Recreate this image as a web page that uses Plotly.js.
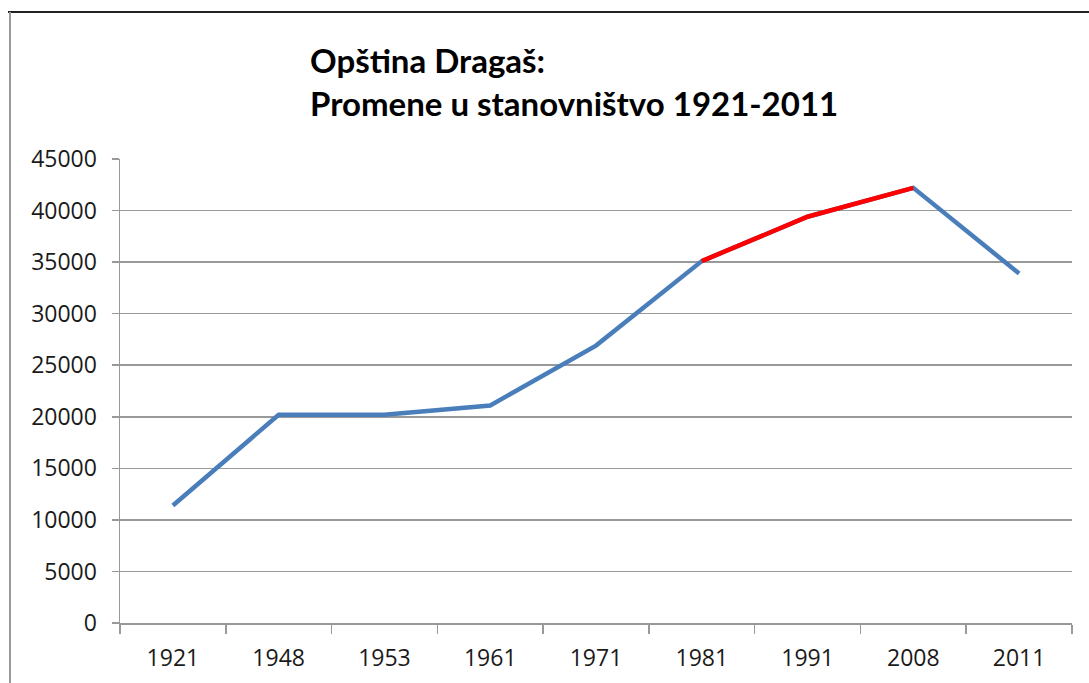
<!DOCTYPE html>
<html>
<head>
<meta charset="utf-8">
<script src="https://cdn.plot.ly/plotly-3.0.1.min.js"></script>
<style>
  html, body { margin: 0; padding: 0; background: #fff; }
  #wrap { position: relative; width: 1089px; height: 683px; overflow: hidden; }
  #chart { position: absolute; left: 0; top: 0; width: 1089px; height: 683px; }
  #bTop { position: absolute; left: 8px; top: 11px; width: 1081px; height: 2px; background: #222; }
  #bLeft { position: absolute; left: 9px; top: 12px; width: 2px; height: 671px; background: #9a9a9a; }
</style>
</head>
<body>
<div id="wrap">
  <div id="chart"></div>
  <div id="bTop"></div>
  <div id="bLeft"></div>
</div>
<script>
// Data
const years = ["1921", "1948", "1953", "1961", "1971", "1981", "1991", "2008", "2011"];
const population = [11400, 20200, 20200, 21100, 26900, 35100, 39400, 42200, 33900];
const highlightedYears = ["1981", "1991", "2008"];
const yTickValues = [0, 5000, 10000, 15000, 20000, 25000, 30000, 35000, 40000, 45000];
const titleLines = ["Opština Dragaš:", "Promene u stanovništvo 1921-2011"];

const highlightedValues = highlightedYears.map(y => population[years.indexOf(y)]);

const traces = [
  {
    x: years, y: population, type: "scatter", mode: "lines",
    line: { color: "#4A7EBB", width: 4.5 },
    hoverinfo: "skip", showlegend: false
  },
  {
    x: highlightedYears, y: highlightedValues, type: "scatter", mode: "lines",
    line: { color: "#FF0000", width: 4.5 },
    hoverinfo: "skip", showlegend: false
  }
];

const tickFont = { family: "Open Sans, Noto Sans, sans-serif", size: 23, color: "#1a1a1a" };

const layout = {
  width: 1089, height: 683,
  margin: { l: 120, r: 17, t: 159, b: 60 },
  paper_bgcolor: "#fff", plot_bgcolor: "#fff",
  showlegend: false,
  title: {
    text: titleLines.join("<br>"),
    font: { family: "Lato, Open Sans, sans-serif", size: 33, color: "#000", weight: "bold" },
    xref: "container", yref: "container",
    x: 310 / 1089, xanchor: "left",
    y: 1 - 73 / 683, yanchor: "top",
    align: "left"
  },
  xaxis: {
    type: "category",
    categoryorder: "array", categoryarray: years,
    range: [-0.5, years.length - 0.5],
    showgrid: false, zeroline: false,
    showline: true, linecolor: "#999", linewidth: 1.5,
    ticks: "outside", tickson: "boundaries", ticklen: 9, tickcolor: "#999", tickwidth: 1.5,
    ticklabelstandoff: 14,
    tickfont: tickFont,
    fixedrange: true
  },
  yaxis: {
    range: [0, 45000],
    tickvals: yTickValues,
    ticktext: yTickValues.map(v => String(v)),
    showgrid: true, gridcolor: "#999", gridwidth: 1.5,
    zeroline: false,
    showline: true, linecolor: "#999", linewidth: 1.5,
    ticks: "outside", ticklen: 7, tickcolor: "#999", tickwidth: 1.5,
    ticklabelstandoff: 10,
    tickfont: tickFont,
    fixedrange: true
  }
};

Plotly.newPlot("chart", traces, layout, { staticPlot: true, displayModeBar: false });
</script>
</body>
</html>
